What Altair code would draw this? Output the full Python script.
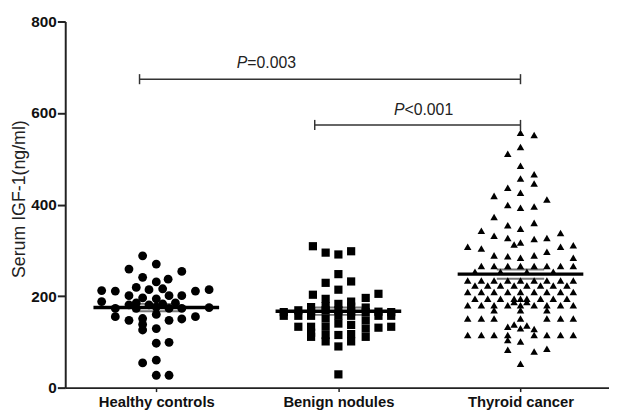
import altair as alt
import pandas as pd

groups = ["Healthy controls", "Benign nodules", "Thyroid cancer"]

healthy_offset = [-0.075, 0, -0.15, 0.14, -0.075, 0.065, 0, -0.11, 0.035, -0.30, -0.225, -0.04, 0.215, 0.29,
                  -0.15, 0.07, 0.14, -0.30, -0.075, 0,
                  -0.225, -0.15, -0.11, -0.04, 0.035, 0.105, 0, -0.11, 0.07, 0.29, 0.14,
                  -0.225, -0.15, -0.075, 0, 0.07, 0.14, 0.215, -0.075, -0.075, 0, 0, 0.07, -0.075, 0, 0, 0.07]
healthy_value = [288, 270, 259, 254, 241, 237, 231, 219, 216, 212, 211, 214, 211, 214,
                 201, 201, 201, 188, 196, 194,
                 173, 181, 185, 181, 183, 185, 176, 173, 173, 175, 173,
                 155, 147, 151, 160, 147, 150, 155, 138, 126, 129, 97, 99, 54, 60, 27, 27]

benign_offset = [-0.14, -0.07, 0, 0.07, 0, -0.07, 0.07, 0, -0.14, 0.22, -0.07, 0.15, 0.07, 0,
                 -0.15, -0.07, 0.07, 0.15,
                 -0.22, -0.07, 0, 0.22,
                 -0.30, -0.22, -0.15, 0, 0.07, 0.22, 0.29,
                 0.15, -0.07, 0.15, 0, 0.07,
                 -0.22, -0.15, -0.07, 0.29, 0.22, 0.15,
                 -0.07, 0, 0.07, -0.15, 0.15, -0.07, 0.07, 0, 0,
                 -0.15, -0.15, 0.07, 0.29, -0.30]
benign_value = [309, 295, 291, 298, 248, 229, 232, 214, 203, 205, 194, 196, 188, 183,
                176, 178, 177, 175,
                169, 169, 169, 166,
                157, 157, 157, 157, 157, 157, 157,
                165, 151, 147, 140, 137,
                133, 133, 133, 133, 131, 129,
                115, 115, 117, 111, 111, 101, 101, 90, 29,
                120, 167, 166, 165, 165]

thyroid_offset = [0, 0.075, 0, -0.07, 0, 0.075, 0, 0.075, -0.07, 0, -0.145, 0.145, -0.07, 0, 0.075,
                  -0.145, 0.075, -0.07, 0, -0.215, 0.22, -0.145, -0.07, 0.075, 0.145, -0.035, 0,
                  -0.29, -0.215, 0.22, 0.29, 0.145, -0.145, -0.07, 0, 0.075, 0.29,
                  -0.215, -0.145, -0.07, 0, 0.075, 0.145, 0.22, 0.29,
                  -0.25, -0.11, 0.035, 0.18,
                  -0.29, -0.215, -0.145, -0.07, 0, 0.075, 0.145, 0.22, 0.29,
                  -0.25, -0.18, -0.11, -0.035, 0.035, 0.11, 0.18, 0.255,
                  -0.29, -0.215, -0.145, -0.07, 0, 0.075, 0.145, 0.22, 0.29,
                  -0.25, -0.18, -0.11, -0.035, 0, 0.035, 0.11, 0.18, 0.255,
                  -0.035, 0.035,
                  -0.29, -0.215, -0.145, -0.07, 0, 0.075, 0.145, 0.22, 0.29,
                  -0.145, 0, 0.145,
                  -0.29, -0.215, -0.145, 0, 0.145, 0.22, 0.29,
                  -0.07, -0.035, 0, 0.035, 0.075,
                  -0.29, -0.215, -0.145, -0.07, 0.075, 0.145, 0.22, 0.29,
                  -0.07, 0,
                  -0.07, 0.075, 0.145,
                  0]
thyroid_value = [557, 552, 526, 511, 485, 466, 457, 446, 437, 426, 419, 411, 399, 393, 396,
                 373, 360, 355, 347, 343, 338, 332, 327, 325, 327, 313, 317,
                 308, 304, 308, 311, 297, 289, 287, 284, 289, 284,
                 266, 266, 266, 266, 266, 266, 266, 266,
                 253, 253, 253, 253,
                 234, 234, 234, 234, 234, 234, 234, 234, 234,
                 223, 223, 223, 223, 223, 223, 223, 223,
                 209, 209, 209, 209, 209, 209, 209, 209, 209,
                 194, 194, 194, 194, 194, 194, 194, 194, 194,
                 187, 187,
                 180, 180, 180, 180, 180, 180, 180, 180, 180,
                 169, 169, 169,
                 151, 151, 151, 151, 151, 151, 151,
                 133, 138, 130, 136, 128,
                 115, 115, 115, 115, 115, 115, 115, 115,
                 104, 101,
                 83, 79, 85,
                 52]

means = [175, 167, 248]
sems = [8, 8, 10]

bracket_x1 = [0.908, 1.87]
bracket_x2 = [3.0, 3.0]
bracket_y = [674, 574]
p_text_x = [1.5, 2.363]
p_text_y = [698, 595]
p_rest = ["=0.003", "<0.001"]

y_ticks = [0, 200, 400, 600, 800]

# ---- tables ----
rows = []
for gi, (offs, vals) in enumerate([(healthy_offset, healthy_value),
                                    (benign_offset, benign_value),
                                    (thyroid_offset, thyroid_value)]):
    for o, v in zip(offs, vals):
        rows.append({"group": groups[gi], "x": gi + 1 + o, "value": v})
pts = pd.DataFrame(rows)

mean_df = pd.DataFrame({
    "x": [i + 1 - 0.345 for i in range(3)],
    "x2": [i + 1 + 0.345 for i in range(3)],
    "value": means,
})
sem_rows = []
for i in range(3):
    for s in (-1, 1):
        sem_rows.append({"x": i + 1 - 0.13, "x2": i + 1 + 0.13, "value": means[i] + s * sems[i]})
sem_h = pd.DataFrame(sem_rows)

br = pd.DataFrame({"x": bracket_x1, "x2": bracket_x2, "value": bracket_y})
caps = pd.DataFrame({
    "x": bracket_x1 + bracket_x2,
    "value": [y - 11 for y in bracket_y] * 2,
    "y2": [y + 11 for y in bracket_y] * 2,
})
txt = pd.DataFrame({"x": p_text_x, "value": p_text_y, "rest": p_rest})

FONT = "Liberation Sans"
xs = alt.Scale(domain=[0.5, 3.486], nice=False, zero=False)
ys = alt.Scale(domain=[0, 800], nice=False)

label_expr = ("datum.value == 1 ? '%s' : datum.value == 2 ? '%s' : '%s'" % tuple(groups))

x_axis = alt.Axis(values=[1, 2, 3], labelExpr=label_expr, title=None, grid=False,
                  tickSize=4, tickWidth=1.5, labelFontSize=15, labelFontWeight="bold",
                  labelPadding=3, labelFont=FONT, labelColor="#111",
                  domainColor="#222", domainWidth=2, tickColor="#222")
y_axis = alt.Axis(values=y_ticks, title="Serum IGF-1(ng/ml)", grid=False,
                  tickSize=8, tickWidth=2, labelFontSize=15.5, labelFontWeight="bold",
                  labelPadding=1, labelFont=FONT, labelColor="#111",
                  domainColor="#222", domainWidth=2, tickColor="#222",
                  titleFont=FONT, titleFontSize=18, titleFontWeight="normal", titleColor="#222",
                  titleAngle=270, titleX=-37, titleY=179.5, titleBaseline="bottom", titleAlign="center")

X = alt.X("x:Q", scale=xs, axis=x_axis)
Y = alt.Y("value:Q", scale=ys, axis=y_axis)

points = alt.Chart(pts).mark_point(filled=True, opacity=1, strokeWidth=0).encode(
    x=X, y=Y,
    shape=alt.Shape("group:N", scale=alt.Scale(domain=groups, range=["circle", "square", "triangle-up"]), legend=None),
    size=alt.Size("group:N", scale=alt.Scale(domain=groups, range=[80, 58, 85]), legend=None),
    color=alt.value("#000"),
)

sem_layer = alt.Chart(sem_h).mark_rule(color="#777", strokeWidth=2).encode(x=X, x2="x2:Q", y=Y)
mean_layer = alt.Chart(mean_df).mark_rule(color="#000", strokeWidth=3.5).encode(x=X, x2="x2:Q", y=Y)
br_layer = alt.Chart(br).mark_rule(color="#333", strokeWidth=1.5).encode(x=X, x2="x2:Q", y=Y)
cap_layer = alt.Chart(caps).mark_rule(color="#333", strokeWidth=1.5).encode(x=X, y=Y, y2="y2:Q")

p_layer = alt.Chart(txt).mark_text(text="P", font=FONT, fontSize=16, fontStyle="italic",
                                   align="right", baseline="alphabetic", color="#222").encode(x=X, y=Y)
rest_layer = alt.Chart(txt).mark_text(font=FONT, fontSize=16, align="left",
                                      baseline="alphabetic", color="#222").encode(
    x=X, y=Y, text="rest:N")

chart = alt.layer(sem_layer, points, mean_layer, br_layer, cap_layer, p_layer, rest_layer).properties(
    width=551, height=371,
    padding={"left": 58, "top": 11, "right": 0, "bottom": 22},
    autosize=alt.AutoSizeParams(type="none"),
    background="white",
).configure_view(stroke=None)

chart.save("out.html", embed_options={"renderer": "svg", "actions": False})
